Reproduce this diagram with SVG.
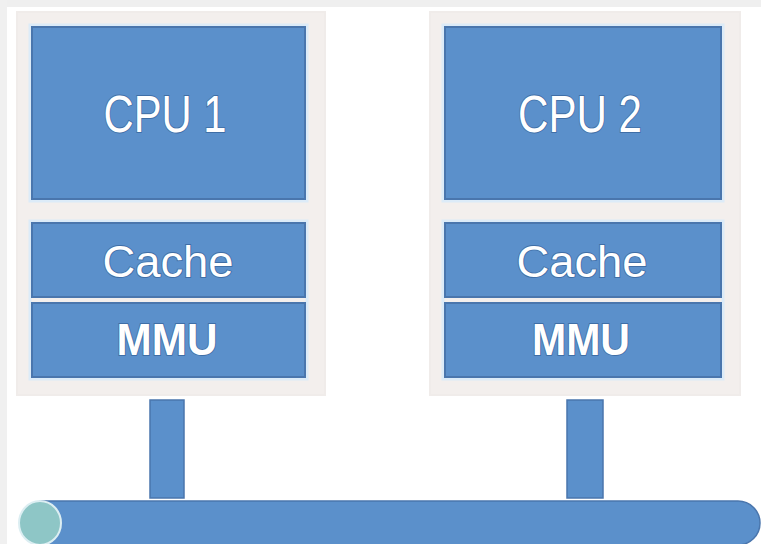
<svg xmlns="http://www.w3.org/2000/svg" width="761" height="544" viewBox="0 0 761 544">
<style>
.panel{fill:#f3efed;stroke:#f0ecea;stroke-width:2}
.box{fill:#5b90cb;stroke:#4a76ad;stroke-width:2}
.halo{fill:none;stroke:#dcebf8;stroke-width:3}
.lbl{font-family:"Liberation Sans",Arial,sans-serif;fill:#ffffff;text-anchor:middle;stroke:#3f6ea6;stroke-width:1.8;paint-order:stroke}
.bar{fill:#5b90cb;stroke:#4a76ad;stroke-width:1.5}
</style>
<rect x="0" y="0" width="761" height="544" fill="#ffffff"/>
<rect x="0" y="0" width="761" height="7" fill="#efefef"/>
<rect x="0" y="0" width="7" height="544" fill="#f0f0f0"/>

<g id="cpu1-node">
<rect class="panel" x="17" y="12" width="308" height="383"/>
<rect class="halo" x="30" y="25" width="277" height="176"/>
<rect class="box" x="32" y="27" width="273" height="172"/>
<text class="lbl" x="165" y="132" font-size="52" textLength="123" lengthAdjust="spacingAndGlyphs">CPU 1</text>
<rect class="halo" x="30" y="221" width="277" height="158"/>
<rect class="box" x="32" y="223" width="273" height="74"/>
<text class="lbl" x="168" y="277" font-size="44" textLength="131" lengthAdjust="spacingAndGlyphs">Cache</text>
<rect class="box" x="32" y="303" width="273" height="74"/>
<text class="lbl" x="167" y="355" font-size="45" font-weight="bold" textLength="101" lengthAdjust="spacingAndGlyphs">MMU</text>
</g>

<g id="cpu2-node">
<rect class="panel" x="430" y="12" width="310" height="383"/>
<rect class="halo" x="443" y="25" width="280" height="176"/>
<rect class="box" x="445" y="27" width="276" height="172"/>
<text class="lbl" x="580" y="132" font-size="52" textLength="124" lengthAdjust="spacingAndGlyphs">CPU 2</text>
<rect class="halo" x="443" y="221" width="280" height="158"/>
<rect class="box" x="445" y="223" width="276" height="74"/>
<text class="lbl" x="582" y="277" font-size="44" textLength="131" lengthAdjust="spacingAndGlyphs">Cache</text>
<rect class="box" x="445" y="303" width="276" height="74"/>
<text class="lbl" x="581" y="355" font-size="45" font-weight="bold" textLength="98" lengthAdjust="spacingAndGlyphs">MMU</text>
</g>

<g id="bus">
<path d="M40 501 H738 A22 22 0 0 1 738 545 H40 Z" fill="#5b90cb" stroke="#4a76ad" stroke-width="1.5"/>
<ellipse cx="40" cy="523" rx="21" ry="22" fill="#8ec6c6" stroke="#dceef2" stroke-width="2"/>
</g>

<g id="connectors">
<rect class="bar" x="150" y="400" width="34" height="98"/>
<rect class="bar" x="567" y="400" width="36" height="98"/>
</g>
</svg>
